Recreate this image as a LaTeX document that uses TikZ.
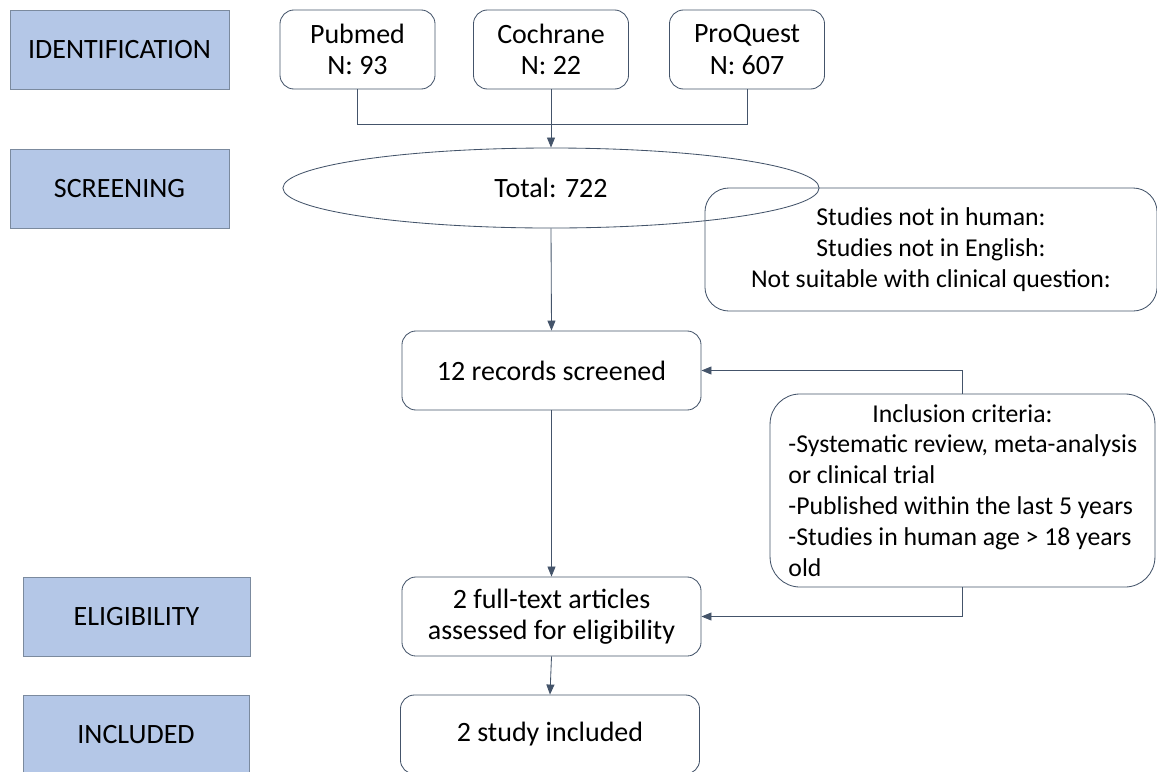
\documentclass[tikz,border=0pt]{standalone}
\usepackage{fontspec}
\setmainfont{Carlito}
\usetikzlibrary{shapes.geometric,arrows.meta}
\definecolor{stagefill}{HTML}{B4C7E7}
\definecolor{stageline}{HTML}{7B8A9E}
\definecolor{flowline}{HTML}{44546A}

\begin{document}
\begin{tikzpicture}[x=0.025cm,y=-0.025cm,
    stage/.style={draw=stageline,fill=stagefill,line width=0.6pt,minimum height=1.975cm},
    srcbox/.style={draw=flowline,line width=0.6pt,rounded corners=0.35cm,minimum width=3.875cm,minimum height=1.975cm,align=center},
    flowbox/.style={draw=flowline,line width=0.6pt,rounded corners=0.35cm,minimum width=7.475cm,minimum height=1.975cm,align=center},
    sidebox/.style={draw=flowline,line width=0.6pt,font=\fontsize{18.3}{22}\selectfont},
    link/.style={draw=flowline,line width=0.6pt},
    arr/.style={link,-{Triangle[length=0.25cm,width=0.2cm]}}]
                \useasboundingbox (0,0) rectangle (1157,771);
                \clip (0,0) rectangle (1157,771);
                {\fontsize{19.9}{22.5}\selectfont

                % Stage labels on the left
                \node [stage,minimum width=5.475cm] (identification) at (119.5,49.5) {IDENTIFICATION};
                \node [stage,minimum width=5.475cm] (screening) at (119.5,188.5) {SCREENING};
                \node [stage,minimum width=5.675cm] (eligibility) at (136.5,616.5) {ELIGIBILITY};
                \node [stage,minimum width=5.65cm] (included) at (136,734.5) {INCLUDED};

                % Databases
                \node [srcbox] (pubmed) at (357.5,49.5) {Pubmed\\N: 93};
                \node [srcbox] (cochrane) at (551,49.5) {Cochrane\\N: 22};
                \node [srcbox] (proquest) at (747,49.5) {ProQuest\\N: 607};

                % Total after merging
                \node [ellipse,draw=flowline,line width=0.6pt,inner sep=0pt,minimum width=13.4cm,minimum height=2cm] (total) at (551,188) {Total: 722};

                % Excluded studies
                \node [sidebox,rounded corners=0.6cm,minimum width=11.3cm,minimum height=3.075cm,align=center] (excluded) at (931,249.5) {Studies not in human:\\Studies not in English:\\Not suitable with clinical question:};

                % Screening and eligibility steps
                \node [flowbox] (screened) at (551.5,370.5) {12 records screened};
                \node [flowbox] (fulltext) at (551.5,616.5) {2 full-text articles\\assessed for eligibility};
                \node [flowbox] (result) at (550,734.5) {2 study included};

                % Inclusion criteria
                \node [sidebox,rounded corners=0.75cm,text width=9.0cm,inner xsep=0.31cm,minimum height=4.825cm,align=flush left] (incl) at (962.5,490.5) {\makebox[\linewidth]{Inclusion criteria:}\\\hspace*{0.15cm}-Systematic review, meta-analysis\\\hspace*{0.15cm}or clinical trial\\\hspace*{0.15cm}-Published within the last 5 years\\\hspace*{0.15cm}-Studies in human age > 18 years\\\hspace*{0.15cm}old};

                % Drawing connectors
                \coordinate (join) at (551,124);
                \draw [link] (pubmed.south) -- (pubmed.south |- join) -| (proquest.south);
                \draw [arr] (cochrane.south) -- (total.north);
                \draw [arr] (total.south) -- (screened.north);
                \draw [arr] (incl.north) |- (screened.east);
                \draw [arr] (screened.south) -- (fulltext.north);
                \draw [arr] (incl.south) |- (fulltext.east);
                \draw [arr] (fulltext.south) -- (result.north);
                }
\end{tikzpicture}
\end{document}
